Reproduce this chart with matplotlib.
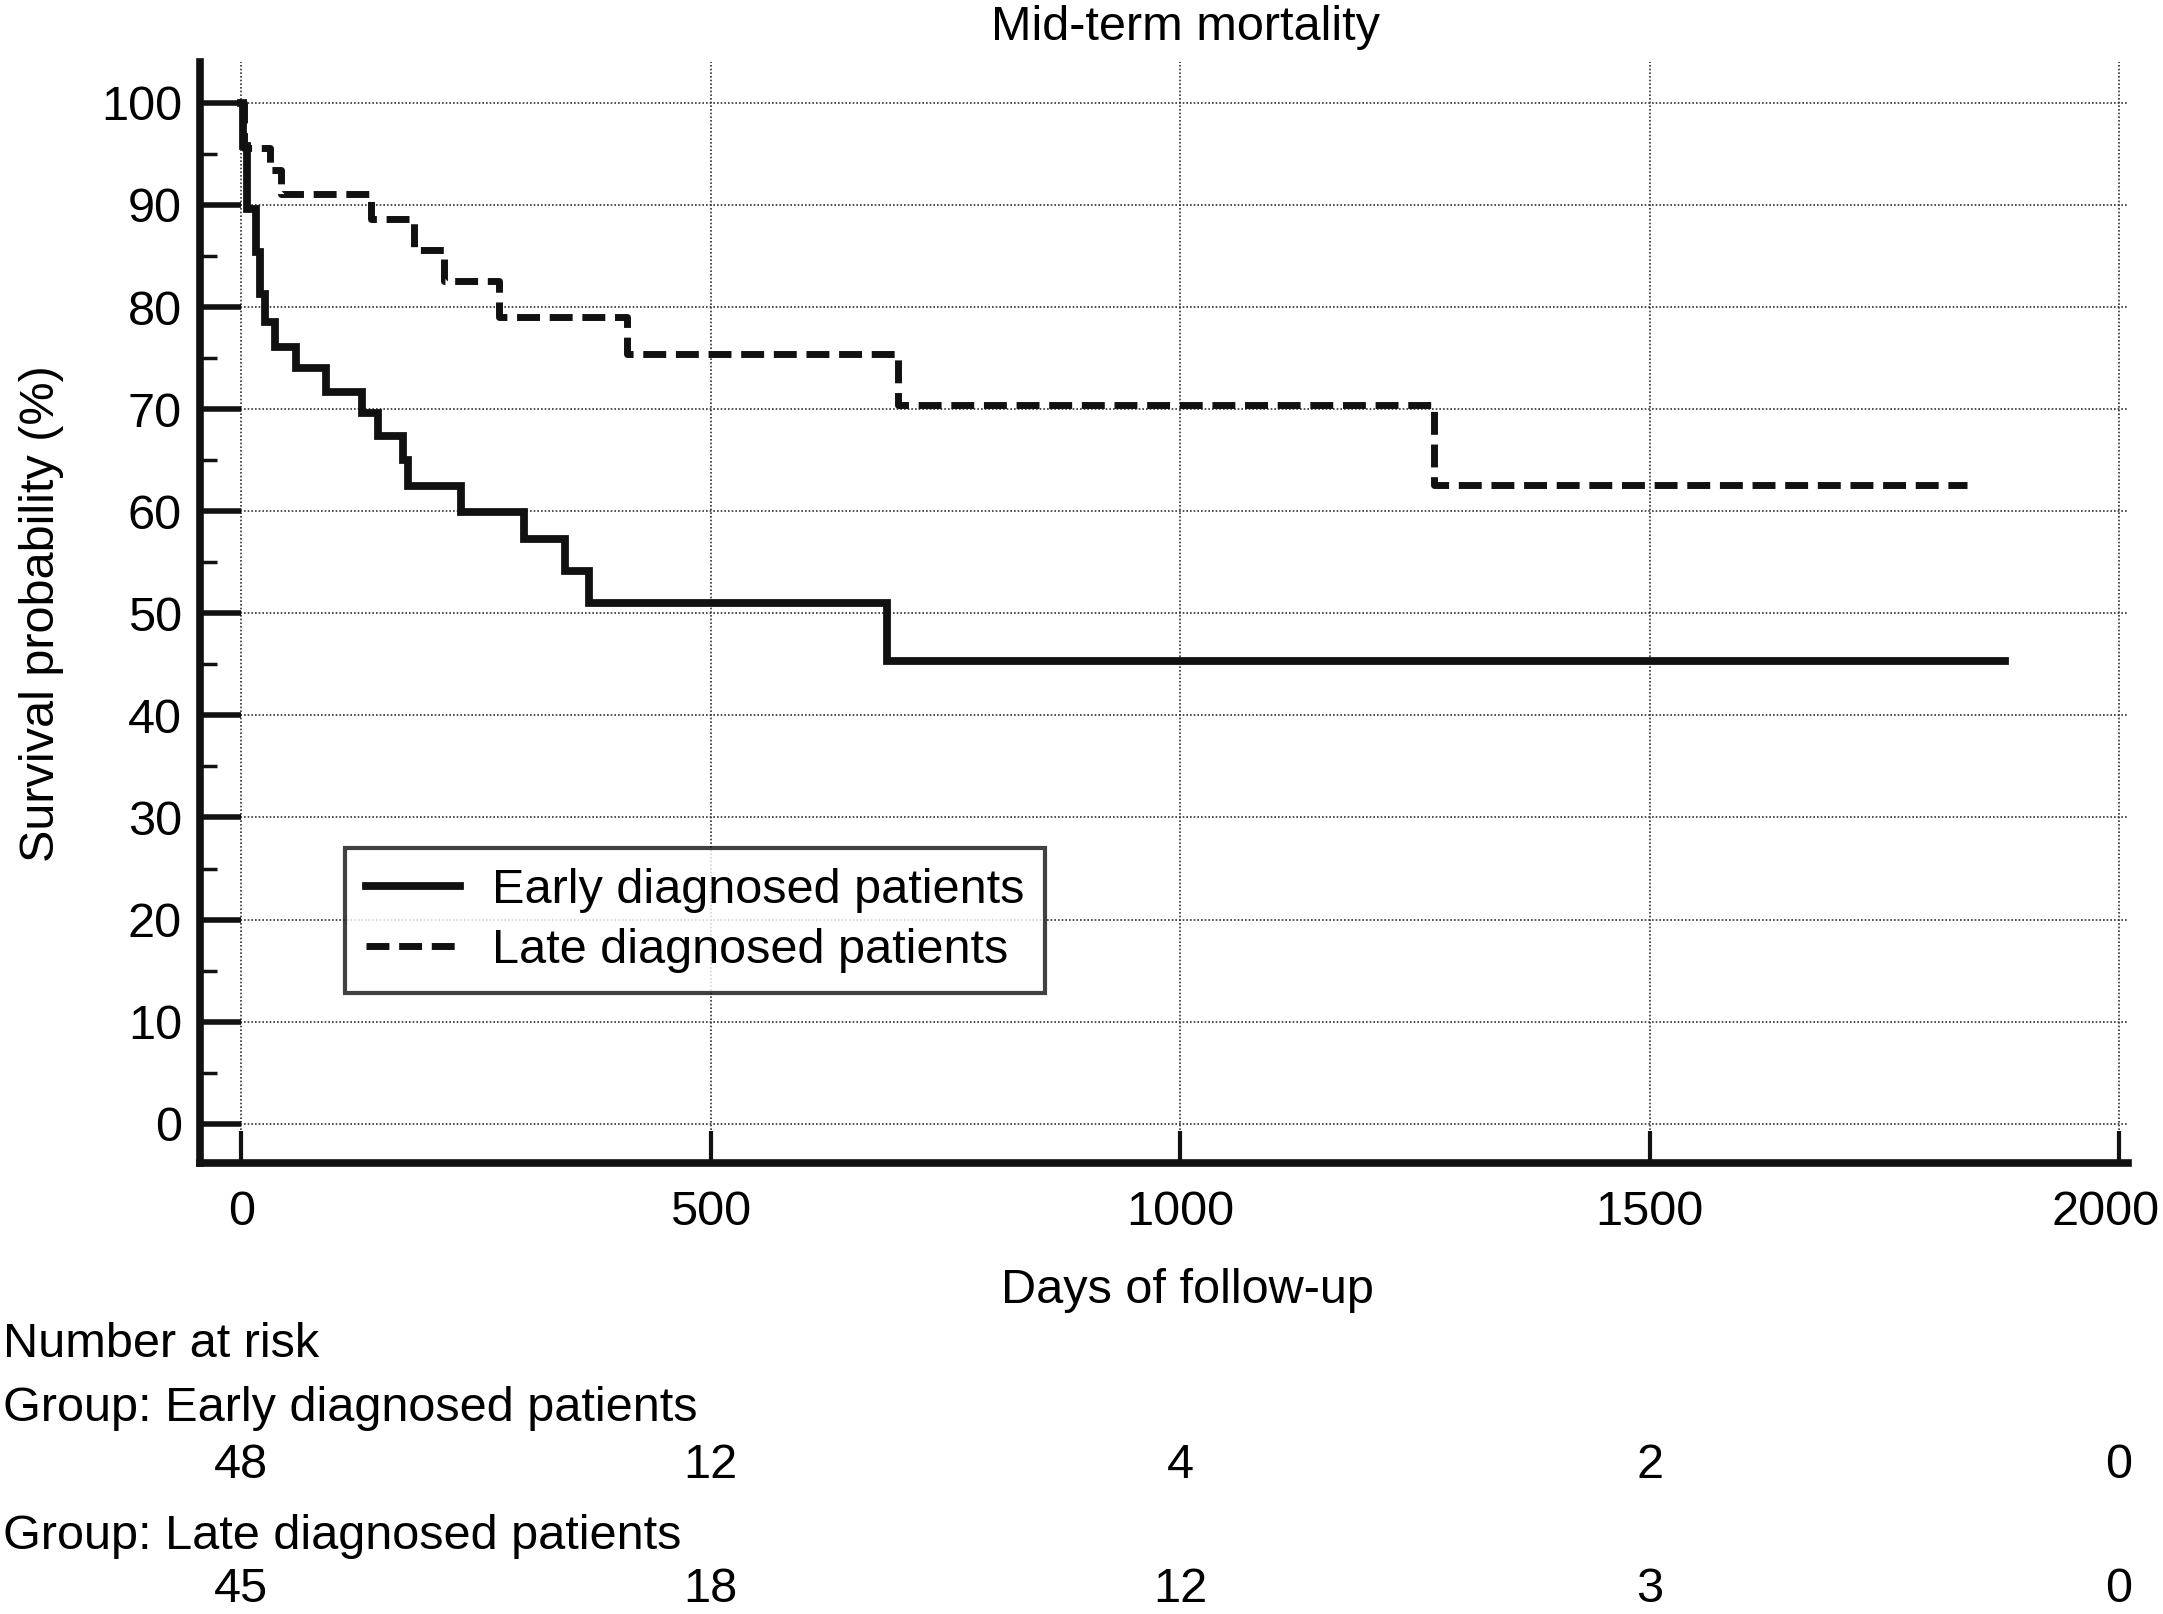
import matplotlib
matplotlib.use("Agg")
import matplotlib.pyplot as plt
from matplotlib.transforms import blended_transform_factory, ScaledTranslation

plt.rcParams["font.family"] = ["Liberation Sans", "DejaVu Sans"]

# --- Kaplan-Meier steps (day, survival %) ---
early_days = [0, 2, 6, 16, 20, 25, 36, 58, 90, 129, 145, 172, 178, 234, 301, 345, 370, 688, 1879]
early_surv = [100, 95.8, 89.6, 85.4, 81.3, 78.5, 76.1, 74.0, 71.7, 69.6, 67.4, 65.0, 62.5, 59.9,
              57.3, 54.1, 51.0, 45.3, 45.3]

late_days = [0, 3, 31, 42, 138, 184, 216, 274, 411, 699, 1270, 1838]
late_surv = [100, 95.6, 93.4, 91.1, 88.6, 85.6, 82.5, 79.0, 75.4, 70.4, 62.6, 62.6]

group_labels = ["Early diagnosed patients", "Late diagnosed patients"]

# --- Number at risk table ---
risk_days = [0, 500, 1000, 1500, 2000]
risk_early = [48, 12, 4, 2, 0]
risk_late = [45, 18, 12, 3, 0]

FS = 35

fig = plt.figure(figsize=(21.63, 16.14), dpi=100)
ax = fig.add_axes([0.0925, 0.2797, 0.984 - 0.0925, 0.9616 - 0.2797])

ax.step(early_days, early_surv, where="post", color="#111111", lw=5.6,
        solid_joinstyle="miter", label=group_labels[0])
ax.step(late_days, late_surv, where="post", color="#111111", lw=5.0,
        dashes=(3.3, 1.4), label=group_labels[1])

ax.set_xlim(-44, 2010)
ax.set_ylim(-3.8, 104)

ax.set_xticks(risk_days)
ax.set_yticks(range(0, 101, 10))
ax.set_yticks(range(5, 100, 10), minor=True)

ax.grid(True, which="major", linestyle=(0, (1, 1.2)), color="#333333", lw=1.2)
ax.set_axisbelow(True)

for side in ("top", "right"):
    ax.spines[side].set_visible(False)
for side in ("left", "bottom"):
    ax.spines[side].set_linewidth(5.5)
    ax.spines[side].set_color("#111111")

ax.tick_params(axis="y", which="major", direction="in", length=29.5, width=4,
               color="#111111", labelsize=FS, pad=13)
ax.tick_params(axis="y", which="minor", direction="in", length=12, width=2.5,
               color="#111111")
ax.tick_params(axis="x", which="major", direction="in", length=23, width=3,
               color="#111111", labelsize=FS, pad=20)

# the last x label sits right at the figure edge, nudge it inside
last = ax.get_xticklabels()[-1]
last.set_transform(last.get_transform() + ScaledTranslation(-0.13, 0, fig.dpi_scale_trans))

leg = ax.legend(loc="upper left", bbox_to_anchor=(0.0752, 0.2858), borderaxespad=0,
                fontsize=FS, frameon=True, fancybox=False, edgecolor="#111111",
                handlelength=1.95, handletextpad=0.65, borderpad=0.42, labelspacing=0.3)
leg.get_frame().set_linewidth(3)

fig.text(0.548, 0.9827, "Mid-term mortality", ha="center", va="center", fontsize=FS)
fig.text(0.549, 0.2005, "Days of follow-up", ha="center", va="center", fontsize=FS)
fig.text(0.019, 0.6196, "Survival probability (%)", ha="center", va="center",
         rotation=90, fontsize=FS)

fig.text(0.0014, 0.1672, "Number at risk", ha="left", va="center", fontsize=FS)
fig.text(0.0014, 0.1276, "Group: " + group_labels[0], ha="left", va="center", fontsize=FS)
fig.text(0.0014, 0.0483, "Group: " + group_labels[1], ha="left", va="center", fontsize=FS)

trans = blended_transform_factory(ax.transData, fig.transFigure)
for d, n in zip(risk_days, risk_early):
    ax.text(d, 0.0917, str(n), transform=trans, ha="center", va="center", fontsize=FS,
            clip_on=False)
for d, n in zip(risk_days, risk_late):
    ax.text(d, 0.0150, str(n), transform=trans, ha="center", va="center", fontsize=FS,
            clip_on=False)

fig.savefig("out.png", dpi=100)
